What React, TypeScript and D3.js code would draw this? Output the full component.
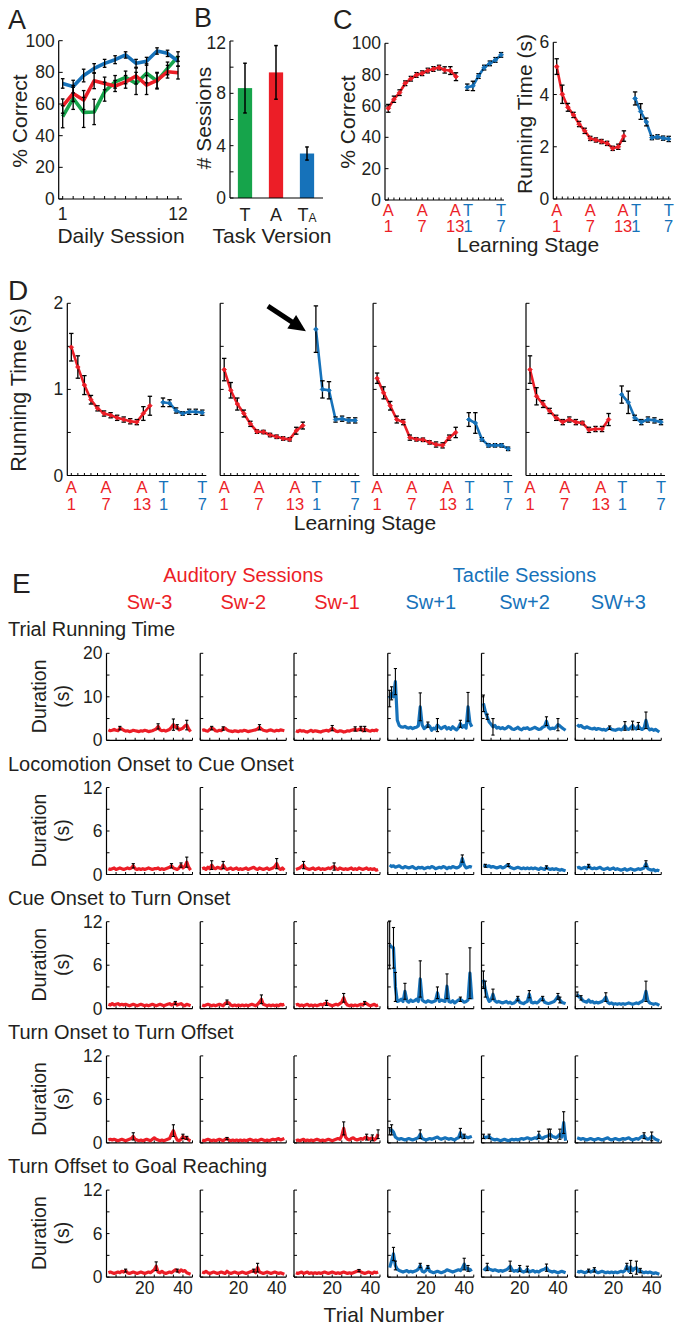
import React from 'react';
import * as d3 from 'd3';

const RED = '#ec1e27';
const BLUE = '#1672ba';
const GREEN = '#16a44b';
const INK = '#231f20';
const FONT = '"Liberation Sans", Arial, Helvetica, sans-serif';

/* ---------------- Panel A ---------------- */
const dailySessions = [1, 2, 3, 4, 5, 6, 7, 8, 9, 10, 11, 12];
const pctTactile = [52, 63.6, 54.7, 55, 67.8, 74, 76.8, 73, 79.4, 74.5, 82.5, 90];
const pctTactileErr = [7, 7, 9.5, 8, 6, 4, 4, 7, 6, 5, 4, 3];
const pctAuditory = [58.7, 66.7, 62.5, 74.7, 73, 71.4, 74, 77.7, 72, 75, 80.4, 79.8];
const pctAuditoryErr = [4.5, 5, 6, 5, 4, 3.5, 4, 5, 6, 5, 4, 4];
const pctTactileAfterA = [73, 71, 78, 82.5, 85.7, 88, 91, 85.7, 87, 93.5, 92, 87];
const pctTactileAfterAErr = [3, 4, 4, 3, 2.5, 2.5, 2, 2.5, 2.5, 2, 2, 3];
const pctTicks = [0, 20, 40, 60, 80, 100];

/* ---------------- Panel B ---------------- */
const taskVersions = ['T', 'A', 'TA'];
const sessionsNeeded = [8.4, 9.6, 3.4];
const sessionsNeededErr = [1.9, 2.05, 0.5];
const sessionTicks = [0, 2, 4, 6, 8, 10, 12];
const sessionTickLabels = [0, 4, 8, 12];

/* ---------------- Panel C ---------------- */
const auditoryStages = [1, 2, 3, 4, 5, 6, 7, 8, 9, 10, 11, 12, 13];
const tactileStages = [1, 2, 3, 4, 5, 6, 7];
const cPctAud = [58.5, 64.3, 68.5, 74.5, 77.4, 79.8, 80.9, 82.6, 83.6, 84.5, 83.0, 82.6, 78.7];
const cPctAudErr = [2.5, 2, 1.8, 1.5, 1.5, 1.5, 1.5, 1.5, 1.5, 1.5, 2, 2.5, 2.5];
const cPctTac = [72, 72.8, 79.1, 84.5, 87.2, 89.4, 92.6];
const cPctTacErr = [2, 3, 1.5, 1.5, 1.5, 1.5, 1.5];
const cRunAud = [5.07, 4.01, 3.51, 3.22, 2.87, 2.61, 2.32, 2.26, 2.2, 2.13, 1.94, 2.0, 2.41];
const cRunAudErr = [0.3, 0.35, 0.15, 0.1, 0.1, 0.1, 0.08, 0.08, 0.08, 0.08, 0.08, 0.1, 0.2];
const cRunTac = [3.85, 3.35, 2.95, 2.35, 2.38, 2.33, 2.3];
const cRunTacErr = [0.25, 0.3, 0.15, 0.08, 0.08, 0.08, 0.1];
const cPctTicks = [0, 20, 40, 60, 80, 100];
const cRunTicks = [0, 2, 4, 6];

/* ---------------- Panel D (four animals) ---------------- */
const dRunAud1 = [1.49, 1.26, 1.05, 0.88, 0.78, 0.72, 0.70, 0.67, 0.65, 0.63, 0.62, 0.72, 0.81];
const dRunAud1Err = [0.16, 0.13, 0.11, 0.05, 0.03, 0.03, 0.03, 0.03, 0.03, 0.03, 0.03, 0.08, 0.11];
const dRunTac1 = [0.85, 0.84, 0.755, 0.72, 0.74, 0.74, 0.73];
const dRunTac1Err = [0.05, 0.04, 0.03, 0.02, 0.03, 0.03, 0.03];
const dRunAud2 = [1.23, 0.99, 0.83, 0.72, 0.60, 0.51, 0.505, 0.47, 0.45, 0.43, 0.42, 0.52, 0.58];
const dRunAud2Err = [0.13, 0.09, 0.07, 0.04, 0.03, 0.02, 0.02, 0.02, 0.02, 0.02, 0.02, 0.04, 0.04];
const dRunTac2 = [1.70, 1.00, 0.99, 0.65, 0.66, 0.64, 0.64];
const dRunTac2Err = [0.27, 0.1, 0.1, 0.03, 0.03, 0.03, 0.03];
const dRunAud3 = [1.13, 0.96, 0.81, 0.65, 0.62, 0.44, 0.42, 0.415, 0.385, 0.36, 0.35, 0.44, 0.50];
const dRunAud3Err = [0.06, 0.07, 0.05, 0.04, 0.03, 0.03, 0.02, 0.02, 0.02, 0.03, 0.03, 0.03, 0.06];
const dRunTac3 = [0.65, 0.61, 0.42, 0.35, 0.35, 0.35, 0.31];
const dRunTac3Err = [0.08, 0.12, 0.02, 0.02, 0.02, 0.02, 0.02];
const dRunAud4 = [1.23, 0.92, 0.83, 0.75, 0.67, 0.62, 0.65, 0.62, 0.61, 0.53, 0.54, 0.54, 0.65];
const dRunAud4Err = [0.16, 0.1, 0.04, 0.03, 0.03, 0.03, 0.03, 0.03, 0.02, 0.03, 0.03, 0.03, 0.07];
const dRunTac4 = [0.94, 0.85, 0.67, 0.62, 0.65, 0.64, 0.62];
const dRunTac4Err = [0.1, 0.13, 0.03, 0.03, 0.03, 0.03, 0.03];
const dTicks = [0, 0.5, 1, 1.5, 2];
const dTickLabels = [0, 1, 2];

/* ---------------- Panel E (per-trial durations) ---------------- */
const eSessionLabels = ['Sw-3', 'Sw-2', 'Sw-1', 'Sw+1', 'Sw+2', 'SW+3'];
const eTrialTicks = [0, 5, 10, 15, 20, 25, 30, 35, 40, 45];
const eTrialTickLabels = [20, 40];

// Trial running time
const rtA3 = [2.4,2.2,2.3,2.5,2.3,2.2,2.8,2.6,2.3,2.1, 2.2,2.0,2.1,2.3,2.2,2.1,2.0,2.2,2.1,2.3, 2.2,2.0,2.1,2.2,2.4,2.6,3.2,2.4,2.2,2.3, 2.1,2.3,2.5,3.0,3.6,3.0,3.1,2.4,2.6,2.8, 3.3,3.5,2.6,2.0];
const rtA2 = [2.3,2.4,2.2,2.1,2.5,2.8,2.6,2.2,2.1,2.3, 2.2,2.7,2.8,2.4,2.2,2.1,2.0,2.2,2.1,2.0, 2.2,2.1,2.3,2.2,2.0,2.1,2.2,2.3,2.4,2.6, 3.0,2.6,2.3,2.2,2.1,2.3,2.4,2.2,2.1,2.3, 2.2,2.4,2.3,2.2];
const rtA1 = [2.2,2.0,2.3,2.1,2.2,2.0,1.9,2.1,2.3,2.0, 2.2,2.1,2.0,1.9,2.1,2.2,2.3,2.1,2.4,2.8, 2.4,2.1,2.0,2.2,2.1,1.9,2.0,2.2,2.1,2.3, 2.4,2.6,2.3,2.5,2.7,2.2,2.6,2.4,2.2,2.1, 2.3,2.2,2.4,2.1];
const rtT1 = [9.6,10.8,10.0,13.5,4.6,3.4,3.1,3.0,3.2,2.9, 2.8,3.0,2.7,2.9,3.0,3.3,7.7,3.5,2.7,3.0, 3.6,3.2,2.3,2.8,2.6,3.5,3.0,2.7,3.0,3.2, 2.6,2.9,2.5,3.1,2.7,2.4,2.9,3.8,3.0,3.4, 2.8,7.7,4.0,3.1];
const rtT2 = [8.5,6.6,5.4,4.2,3.7,3.1,3.4,2.8,3.0,2.7, 2.9,2.6,2.8,3.2,3.0,2.6,2.5,2.7,3.0,2.6, 2.4,2.8,2.7,2.9,2.5,2.6,2.8,3.0,2.7,2.5, 2.6,3.0,3.2,4.4,3.0,2.6,2.8,2.7,3.0,3.6, 3.3,2.9,2.6,2.3];
const rtT3 = [3.6,3.2,3.4,3.0,2.8,3.1,2.9,2.7,2.6,2.8, 2.5,2.7,2.6,2.4,2.5,2.3,2.6,2.9,2.5,2.4, 2.3,2.5,2.6,2.4,2.7,3.3,2.6,2.5,2.9,3.4, 2.8,2.6,3.3,2.7,2.5,2.8,4.6,2.9,2.4,2.6, 2.3,2.5,2.2,1.9];
const rtA3Err = [[7, 0.4], [27, 0.6], [35, 1.3], [37, 0.5], [42, 1.1]];
const rtA2Err = [[6, 0.4], [12, 0.4], [31, 0.6]];
const rtA1Err = [[20, 0.6], [32, 0.5], [35, 0.5], [37, 0.6]];
const rtT1Err = [[1, 1.9], [2, 1.5], [4, 3.0], [17, 3.2], [21, 0.6], [26, 1.5], [38, 0.8], [42, 3.3]];
const rtT2Err = [[1, 1.9], [3, 0.6], [6, 1.9], [34, 1.0], [40, 1.4]];
const rtT3Err = [[18, 0.4], [26, 1.0], [30, 1.0], [33, 0.8], [37, 1.9]];

// Locomotion onset to cue onset
const lcA3 = [0.8,0.7,0.8,0.9,0.7,0.8,0.9,0.8,0.7,0.8, 0.9,0.8,0.9,1.2,0.8,0.7,0.8,0.7,0.8,0.7, 0.8,0.9,0.8,0.7,0.8,0.8,0.9,0.7,0.8,0.7, 0.8,0.9,1.0,1.2,0.9,0.8,0.7,0.9,1.3,0.9, 1.1,1.7,1.0,0.6];
const lcA2 = [0.8,0.9,0.7,1.0,0.8,1.3,0.9,0.8,1.0,0.9, 0.8,1.3,0.9,0.7,0.8,0.9,0.7,0.8,0.9,0.7, 0.8,0.7,0.8,0.9,0.7,0.8,0.9,1.0,0.8,0.7, 0.9,0.8,0.7,0.8,0.9,0.7,0.8,0.9,1.1,1.5, 0.9,0.7,0.9,0.6];
const lcA1 = [0.7,0.8,0.9,1.1,1.3,0.9,0.8,0.7,0.8,0.9, 0.7,0.8,0.9,0.7,0.8,0.7,0.8,0.9,0.8,1.0, 1.1,0.8,0.7,0.9,0.8,0.7,0.8,0.7,0.8,0.9, 0.7,0.8,0.7,0.9,0.8,0.7,0.8,0.9,0.7,0.8, 0.7,0.8,0.6,0.7];
const lcT1 = [1.3,1.1,1.2,1.0,1.1,1.2,1.0,0.9,1.1,1.0, 0.9,1.0,1.1,0.9,0.8,1.0,0.9,1.0,0.8,0.9, 1.0,0.9,1.1,1.0,0.8,0.9,1.0,0.9,1.1,1.0, 0.8,1.0,0.9,1.1,1.0,0.9,1.0,1.2,2.2,1.3, 0.9,1.0,1.1,1.0];
const lcT2 = [1.3,1.2,1.1,1.2,1.0,1.1,1.0,0.9,1.0,1.1, 0.9,1.0,1.2,1.3,1.0,0.9,0.8,0.9,1.0,0.9, 0.8,0.9,0.8,0.9,0.8,0.9,0.8,0.9,0.8,0.7, 0.9,0.8,0.7,1.0,0.8,0.7,0.8,0.7,0.8,0.7, 0.6,0.7,0.6,0.5];
const lcT3 = [0.9,1.0,0.8,0.9,1.0,0.8,1.2,0.9,0.8,0.9, 0.8,0.9,1.0,0.8,0.7,0.8,0.9,0.7,0.8,0.9, 0.7,0.8,0.7,0.6,0.7,0.8,0.6,0.7,0.8,0.7, 0.6,0.7,0.8,0.7,0.8,0.9,1.5,0.8,0.7,0.6, 0.7,0.5,0.6,0.5];
const lcA3Err = [[14, 0.3], [34, 0.3], [39, 0.3], [42, 0.7]];
const lcA2Err = [[6, 0.6], [12, 0.5], [40, 0.7]];
const lcA1Err = [[5, 0.5], [21, 0.5]];
const lcT1Err = [[39, 0.5]];
const lcT2Err = [[2, 0.2], [14, 0.2], [34, 0.2]];
const lcT3Err = [[7, 0.2], [37, 0.4]];

// Cue onset to turn onset
const ctA3 = [0.6,0.5,0.7,0.5,0.6,0.7,0.5,0.6,0.5,0.6, 0.5,0.4,0.5,0.6,0.5,0.4,0.5,0.6,0.5,0.4, 0.5,0.4,0.5,0.6,0.5,0.4,0.5,0.6,0.5,0.4, 0.5,0.6,0.7,0.5,0.6,0.8,0.5,0.6,0.7,0.5, 0.4,0.6,0.5,0.4];
const ctA2 = [0.5,0.4,0.5,0.6,0.5,0.4,0.5,0.4,0.5,0.6, 0.5,0.4,0.7,0.9,0.8,0.5,0.4,0.5,0.4,0.5, 0.4,0.5,0.4,0.5,0.4,0.5,0.6,0.5,0.4,0.6, 0.9,1.3,0.6,0.5,0.4,0.5,0.4,0.5,0.4,0.5, 0.4,0.6,0.5,0.6];
const ctA1 = [0.5,0.6,0.4,0.5,0.4,0.5,0.6,0.4,0.5,0.4, 0.5,0.4,0.5,0.6,0.5,0.7,0.8,0.6,0.5,0.4, 0.5,0.6,0.5,0.7,0.9,1.5,0.8,0.5,0.4,0.5, 0.4,0.5,0.4,0.5,0.6,0.5,0.8,0.7,0.5,0.4, 0.5,0.6,0.4,0.5];
const ctT1 = [8.8,8.5,8.4,3.0,1.0,1.1,1.3,1.0,2.4,1.1, 0.9,1.2,1.0,1.1,1.3,1.0,4.1,1.2,1.0,0.9, 1.1,1.0,0.9,1.0,1.1,2.2,1.0,1.2,1.1,1.0, 3.1,1.0,0.9,1.1,0.8,1.0,1.2,1.3,1.1,0.9, 1.0,1.2,4.9,1.3];
const ctT2 = [4.0,2.7,1.6,1.0,1.2,2.0,1.1,0.9,1.0,0.9, 0.8,0.9,1.0,0.8,0.9,0.7,0.8,1.0,1.4,0.9, 0.8,0.7,0.9,1.0,2.0,0.9,0.8,0.9,0.8,1.0, 1.3,1.4,0.9,0.8,0.7,0.8,0.9,1.0,1.3,1.7, 1.2,0.9,0.8,0.7];
const ctT3 = [2.0,1.6,1.5,1.1,1.0,0.9,1.2,0.9,1.0,0.8, 0.9,0.8,0.9,1.0,1.2,1.6,0.9,0.7,0.8,0.6, 0.7,0.6,0.7,0.6,0.7,0.6,0.7,0.8,0.7,0.6, 0.7,0.8,0.7,0.9,1.0,1.3,2.4,1.1,0.8,0.7, 0.6,0.7,0.6,0.45];
const ctA3Err = [[36, 0.2]];
const ctA2Err = [[14, 0.3], [32, 0.6]];
const ctA1Err = [[17, 0.35], [26, 0.6], [37, 0.2]];
const ctT1Err = [[1, 3.3], [3, 2.8], [4, 2.0], [9, 1.1], [17, 2.5], [26, 0.8], [31, 1.7], [38, 0.3], [43, 3.5]];
const ctT2Err = [[1, 1.2], [2, 1.1], [6, 0.7], [19, 0.3], [25, 0.5], [32, 0.3], [40, 0.4], [41, 0.4]];
const ctT3Err = [[1, 0.3], [3, 0.3], [16, 0.6], [37, 1.4]];

// Turn onset to turn offset
const ttA3 = [0.4,0.5,0.4,0.5,0.4,0.3,0.4,0.5,0.4,0.3, 0.4,0.5,0.6,0.9,0.5,0.4,0.3,0.4,0.3,0.4, 0.5,0.4,0.3,0.5,0.7,0.5,0.4,0.3,0.4,0.3, 0.4,0.5,0.6,1.2,1.7,0.9,0.4,0.3,0.5,0.9, 0.6,0.7,0.4,0.3];
const ttA2 = [0.4,0.3,0.4,0.5,0.4,0.3,0.4,0.3,0.4,0.5, 0.4,0.3,0.5,0.6,0.4,0.3,0.4,0.3,0.4,0.3, 0.4,0.3,0.4,0.3,0.4,0.5,0.4,0.3,0.4,0.3, 0.4,0.5,0.4,0.3,0.4,0.3,0.4,0.5,0.4,0.5, 0.6,0.4,0.5,0.6];
const ttA1 = [0.3,0.4,0.3,0.4,0.5,0.3,0.4,0.3,0.4,0.3, 0.4,0.5,0.4,0.3,0.4,0.3,0.4,0.5,0.4,0.3, 0.4,0.5,0.6,0.5,1.0,2.0,0.8,0.5,0.4,0.6, 0.7,0.5,0.4,0.5,0.6,0.5,0.7,0.8,0.5,0.6, 0.7,0.4,0.6,1.2];
const ttT1 = [1.6,1.8,1.5,0.8,0.6,0.5,0.6,0.5,0.4,0.5, 0.6,0.5,0.4,0.5,0.6,0.7,1.2,0.6,0.5,0.4, 0.5,0.6,0.5,0.6,0.7,0.8,0.6,0.5,0.6,0.7, 0.6,0.5,0.6,0.5,0.4,0.6,0.7,1.4,0.7,0.9, 0.8,0.7,0.8,0.9];
const ttT2 = [0.9,0.7,0.8,0.9,0.6,0.5,0.4,0.5,0.4,0.3, 0.4,0.5,0.4,0.3,0.4,0.5,0.4,0.5,0.4,0.5, 0.6,0.5,0.6,0.7,0.6,0.5,0.6,0.7,0.6,1.1, 0.7,0.6,0.8,0.9,1.0,1.2,0.9,0.8,0.7,0.9, 1.2,0.8,2.8,0.3];
const ttT3 = [0.7,0.6,0.5,0.6,0.5,0.4,0.5,0.6,0.5,0.4, 0.5,0.6,0.5,0.4,0.5,0.6,0.7,0.5,0.4,0.5, 0.6,0.5,0.4,0.5,0.6,0.5,0.6,0.7,0.5,0.4, 0.5,0.6,0.5,0.7,0.9,1.0,0.6,0.5,0.6,0.9, 0.7,0.5,0.4,0.3];
const ttA3Err = [[14, 0.5], [35, 0.8], [40, 0.3], [42, 0.2]];
const ttA2Err = [[14, 0.15]];
const ttA1Err = [[26, 0.9], [38, 0.4], [41, 0.4], [44, 0.6]];
const ttT1Err = [[1, 0.5], [2, 0.7], [17, 0.6], [38, 0.6], [40, 0.3]];
const ttT2Err = [[1, 0.3], [4, 0.3], [30, 0.5], [35, 0.9], [36, 0.7], [41, 0.7], [43, 1.5]];
const ttT3Err = [[36, 0.4], [40, 0.6]];

// Turn offset to goal reaching
const gaA3 = [0.6,0.7,0.6,0.5,0.6,0.7,0.6,0.8,0.7,0.9, 0.6,0.5,0.6,0.7,0.6,0.5,0.6,0.7,0.6,0.5, 0.6,0.7,0.6,0.8,1.0,1.5,0.7,0.6,0.8,0.6, 0.5,0.6,0.7,0.6,0.8,1.0,0.9,0.7,1.0,0.8, 0.9,0.6,0.5,0.4];
const gaA2 = [0.7,0.6,0.8,0.6,0.5,0.6,0.7,0.6,0.5,0.6, 0.7,0.6,0.5,0.8,0.6,0.5,0.6,0.7,0.6,0.5, 0.6,0.7,0.6,0.5,0.6,0.7,0.8,0.9,0.6,1.3, 0.7,0.6,0.5,0.6,0.7,0.6,0.5,0.6,0.7,0.6, 0.5,0.6,0.5,0.4];
const gaA1 = [0.6,0.5,0.6,0.7,0.5,0.6,0.7,0.5,0.6,0.5, 0.6,0.5,0.6,0.5,0.6,0.7,0.6,0.5,0.6,0.7, 0.6,0.5,0.6,0.5,0.6,0.7,0.6,0.5,0.6,0.5, 0.6,0.7,0.8,0.9,0.7,0.6,0.5,0.6,0.7,0.6, 0.5,0.7,0.6,0.7];
const gaT1 = [1.3,2.2,3.2,1.6,1.1,0.9,0.8,0.7,0.8,0.9, 0.7,0.8,0.7,0.8,0.9,1.1,1.6,0.8,0.7,0.9, 1.4,0.8,0.7,0.6,0.7,0.8,0.7,0.6,0.7,0.8, 1.0,0.9,0.8,0.7,0.8,0.9,1.0,0.9,1.2,1.8, 1.1,1.2,0.9,1.1];
const gaT2 = [1.2,1.0,1.4,1.1,1.0,0.9,1.0,0.9,0.8,0.9, 0.8,0.9,1.0,1.2,1.5,1.0,0.8,0.9,0.8,1.2, 0.8,0.7,0.8,1.1,0.7,0.8,0.9,0.7,0.8,0.7, 0.9,1.0,1.1,1.3,0.9,0.8,0.7,0.8,0.7,0.6, 0.7,0.8,0.7,0.6];
const gaT3 = [0.8,0.7,0.8,0.7,0.6,0.7,0.9,0.7,0.8,1.0, 0.7,0.6,0.7,0.8,0.7,0.6,0.7,0.6,0.7,0.6, 0.7,0.6,0.7,0.8,0.7,0.9,1.5,0.8,1.4,0.9, 1.2,1.3,0.8,0.9,0.7,0.6,0.7,0.6,0.7,0.6, 0.5,0.6,0.5,0.4];
const gaA3Err = [[10, 0.2], [26, 0.6], [37, 0.2]];
const gaA2Err = [[28, 0.2], [30, 0.6]];
const gaA1Err = [[34, 0.15]];
const gaT1Err = [[3, 0.9], [4, 0.6], [17, 0.3], [21, 0.2], [40, 0.8], [42, 0.4]];
const gaT2Err = [[3, 0.5], [15, 0.7], [20, 0.4], [24, 0.4], [34, 0.5]];
const gaT3Err = [[7, 0.2], [10, 0.3], [27, 0.4], [29, 0.9], [32, 0.9], [34, 0.3]];

const eRowTitles = ['Trial Running Time', 'Locomotion Onset to Cue Onset', 'Cue Onset to Turn Onset', 'Turn Onset to Turn Offset', 'Turn Offset to Goal Reaching'];
const eRowMax = [20, 12, 12, 12, 12];
const eRowTicks = [[0, 5, 10, 15, 20], [0, 3, 6, 9, 12], [0, 3, 6, 9, 12], [0, 3, 6, 9, 12], [0, 3, 6, 9, 12]];
const eRowTickLabels = [[0, 10, 20], [0, 6, 12], [0, 6, 12], [0, 6, 12], [0, 6, 12]];
const eRowSeries = [
  [rtA3, rtA2, rtA1, rtT1, rtT2, rtT3],
  [lcA3, lcA2, lcA1, lcT1, lcT2, lcT3],
  [ctA3, ctA2, ctA1, ctT1, ctT2, ctT3],
  [ttA3, ttA2, ttA1, ttT1, ttT2, ttT3],
  [gaA3, gaA2, gaA1, gaT1, gaT2, gaT3],
];
const eRowErrs = [
  [rtA3Err, rtA2Err, rtA1Err, rtT1Err, rtT2Err, rtT3Err],
  [lcA3Err, lcA2Err, lcA1Err, lcT1Err, lcT2Err, lcT3Err],
  [ctA3Err, ctA2Err, ctA1Err, ctT1Err, ctT2Err, ctT3Err],
  [ttA3Err, ttA2Err, ttA1Err, ttT1Err, ttT2Err, ttT3Err],
  [gaA3Err, gaA2Err, gaA1Err, gaT1Err, gaT2Err, gaT3Err],
];

/* ---------------- helpers ---------------- */
function ErrBar({ x, y0, y1, cap, sw }: any) {
  return (
    <g stroke="#000" strokeWidth={sw} fill="none">
      <line x1={x} x2={x} y1={y0} y2={y1} />
      <line x1={x - cap} x2={x + cap} y1={y0} y2={y0} />
      <line x1={x - cap} x2={x + cap} y1={y1} y2={y1} />
    </g>
  );
}

function Series({ xs, vals, errs, x, y, color, lw, r, cap, ebw }: any) {
  const pts = vals.map((v: number, i: number) => [x(xs[i]), y(v)]);
  const line = d3.line()(pts as any) || '';
  return (
    <g>
      <path d={line} fill="none" stroke={color} strokeWidth={lw} strokeLinejoin="round" strokeLinecap="round" />
      {errs && vals.map((v: number, i: number) => (
        <ErrBar key={'e' + i} x={x(xs[i])} y0={y(v + errs[i])} y1={y(v - errs[i])} cap={cap} sw={ebw} />
      ))}
      {r > 0 && pts.map((p: number[], i: number) => (
        <path key={'m' + i} d={`M${p[0]},${p[1] - r}L${p[0] + r},${p[1]}L${p[0]},${p[1] + r}L${p[0] - r},${p[1]}Z`} fill={color} stroke={color} strokeWidth={0.8} />
      ))}
    </g>
  );
}

function VText({ x, y, size, children, fill }: any) {
  return (
    <text transform={`translate(${x},${y}) rotate(-90)`} textAnchor="middle" dominantBaseline="central" fontSize={size} fill={fill || INK}>{children}</text>
  );
}

/* ---------------- Panel A ---------------- */
function PanelA() {
  const x = d3.scaleLinear().domain([0.62, 12.38]).range([58.7, 182]);
  const y = d3.scaleLinear().domain([0, 100]).range([199, 40.7]);
  const [x0, x1] = x.range();
  const series = [
    { vals: pctTactile, err: pctTactileErr, color: GREEN },
    { vals: pctAuditory, err: pctAuditoryErr, color: RED },
    { vals: pctTactileAfterA, err: pctTactileAfterAErr, color: BLUE },
  ];
  return (
    <g>
      <text x={8} y={29} fontSize={27} fill={INK}>A</text>
      {series.map((s, i) => (
        <path key={i} d={d3.line()(s.vals.map((v, j) => [x(dailySessions[j]), y(v)]) as any) || ''} fill="none" stroke={s.color} strokeWidth={3.6} strokeLinejoin="round" />
      ))}
      {series.map((s, i) => (
        <g key={'eb' + i}>
          {s.vals.map((v, j) => (
            <ErrBar key={j} x={x(dailySessions[j])} y0={y(v + s.err[j])} y1={y(v - s.err[j])} cap={1.8} sw={1.3} />
          ))}
        </g>
      ))}
      <line x1={x0} x2={x0} y1={y(100)} y2={y(0)} stroke="#000" strokeWidth={1.2} />
      <line x1={x0} x2={x1} y1={y(0)} y2={y(0)} stroke="#000" strokeWidth={1.2} />
      {pctTicks.map(t => (
        <g key={t}>
          <line x1={x0} x2={x0 + 4} y1={y(t)} y2={y(t)} stroke="#000" />
          <text x={x0 - 4} y={y(t)} textAnchor="end" dominantBaseline="central" fontSize={17.5} fill={INK}>{t}</text>
        </g>
      ))}
      {dailySessions.map(s => (
        <line key={s} x1={x(s)} x2={x(s)} y1={y(0)} y2={y(0) - 3} stroke="#000" />
      ))}
      {[dailySessions[0], dailySessions[dailySessions.length - 1]].map(s => (
        <text key={s} x={x(s)} y={y(0) + 15} textAnchor="middle" dominantBaseline="central" fontSize={17.5} fill={INK}>{s}</text>
      ))}
      <text x={121} y={243} textAnchor="middle" fontSize={21} fill={INK}>Daily Session</text>
      <VText x={19} y={121} size={21}>% Correct</VText>
    </g>
  );
}

/* ---------------- Panel B ---------------- */
function PanelB() {
  const x = d3.scaleBand().domain(taskVersions).range([229.5, 322.5]);
  const y = d3.scaleLinear().domain([0, 12]).range([198, 41]);
  const colors = [GREEN, RED, BLUE];
  const x0 = 230;
  const bw = x.bandwidth() * 0.46;
  return (
    <g>
      <text x={194} y={27} fontSize={27} fill={INK}>B</text>
      {taskVersions.map((t, i) => {
        const cx = (x(t) as number) + x.bandwidth() / 2;
        return (
          <g key={t}>
            <rect x={cx - bw / 2} y={y(sessionsNeeded[i])} width={bw} height={y(0) - y(sessionsNeeded[i])} fill={colors[i]} />
            <ErrBar x={cx} y0={y(sessionsNeeded[i] + sessionsNeededErr[i])} y1={y(sessionsNeeded[i] - sessionsNeededErr[i])} cap={1.8} sw={1.5} />
            <text x={cx} y={y(0) + 17} textAnchor="middle" dominantBaseline="central" fontSize={18} fill={INK}>
              {t[0]}
              {t.length > 1 && <tspan fontSize={12} dy={3}>{t.slice(1)}</tspan>}
            </text>
          </g>
        );
      })}
      <line x1={x0} x2={x0} y1={y(12)} y2={y(0)} stroke="#000" strokeWidth={1.2} />
      <line x1={x0} x2={323} y1={y(0)} y2={y(0)} stroke="#000" strokeWidth={1.2} />
      {sessionTicks.map(t => (
        <line key={t} x1={x0} x2={x0 + 3.5} y1={y(t)} y2={y(t)} stroke="#000" />
      ))}
      {sessionTickLabels.map(t => (
        <text key={t} x={x0 - 4} y={y(t) + (t === 12 ? 1.5 : 0)} textAnchor="end" dominantBaseline="central" fontSize={17.5} fill={INK}>{t}</text>
      ))}
      <text x={272} y={243} textAnchor="middle" fontSize={21} fill={INK}>Task Version</text>
      <VText x={203} y={118} size={21}># Sessions</VText>
    </g>
  );
}

/* ---------------- stage axis (C, D) ---------------- */
function StageLabels({ x, yTop, positions }: any) {
  const labels = [
    { p: positions[0], a: 'A', b: auditoryStages[0], c: RED },
    { p: positions[1], a: 'A', b: auditoryStages[6], c: RED },
    { p: positions[2], a: 'A', b: auditoryStages[12], c: RED },
    { p: positions[3], a: 'T', b: tactileStages[0], c: BLUE },
    { p: positions[4], a: 'T', b: tactileStages[6], c: BLUE },
  ];
  return (
    <g>
      {labels.map((l, i) => (
        <g key={i} fill={l.c} fontSize={16.5} textAnchor="middle">
          <text x={x(l.p)} y={yTop} dominantBaseline="central">{l.a}</text>
          <text x={x(l.p)} y={yTop + 16.5} dominantBaseline="central">{l.b}</text>
        </g>
      ))}
    </g>
  );
}

function StagePlot({ axisX, xStart, step, yScale, ticks, tickLabels, aud, audErr, tac, tacErr, labelPos, labelY, axisEnd, lw, r }: any) {
  const x = d3.scaleLinear().domain([0, 20]).range([xStart, xStart + 20 * step]);
  const audIdx = auditoryStages.map(s => s - 1);
  const tacIdx = tactileStages.map(s => s + 13);
  const y0 = yScale(0);
  const yTopV = yScale.domain()[1];
  const allIdx = d3.range(0, 21);
  return (
    <g>
      <line x1={axisX} x2={axisX} y1={yScale(yTopV)} y2={y0} stroke="#000" strokeWidth={1.2} />
      <line x1={axisX} x2={axisEnd} y1={y0} y2={y0} stroke="#000" strokeWidth={1.2} />
      {ticks.map((t: number) => (
        <line key={t} x1={axisX} x2={axisX + 3.5} y1={yScale(t)} y2={yScale(t)} stroke="#000" />
      ))}
      {tickLabels && tickLabels.map((t: number) => (
        <text key={'l' + t} x={axisX - 4} y={yScale(t)} textAnchor="end" dominantBaseline="central" fontSize={17.5} fill={INK}>{t}</text>
      ))}
      {allIdx.map(i => (
        <line key={'xt' + i} x1={x(i)} x2={x(i)} y1={y0} y2={y0 - 2.5} stroke="#000" />
      ))}
      <Series xs={audIdx} vals={aud} errs={audErr} x={x} y={yScale} color={RED} lw={lw} r={r} cap={2.2} ebw={1.3} />
      <Series xs={tacIdx} vals={tac} errs={tacErr} x={x} y={yScale} color={BLUE} lw={lw} r={r} cap={2.2} ebw={1.3} />
      <StageLabels x={x} yTop={labelY} positions={labelPos} />
    </g>
  );
}

/* ---------------- Panel C ---------------- */
function PanelC() {
  const yPct = d3.scaleLinear().domain([0, 100]).range([200, 43.3]);
  const yRun = d3.scaleLinear().domain([0, 6]).range([199, 42.3]);
  const cLabelPos = [0, 6, 11.85, 14.15, 20];
  return (
    <g>
      <text x={333} y={29} fontSize={27} fill={INK}>C</text>
      <StagePlot axisX={385} xStart={388.3} step={5.64} yScale={yPct} ticks={cPctTicks} tickLabels={cPctTicks}
        aud={cPctAud} audErr={cPctAudErr} tac={cPctTac} tacErr={cPctTacErr} labelPos={cLabelPos} labelY={209.5} axisEnd={504} lw={2.6} r={2.4} />
      <StagePlot axisX={553.3} xStart={556.7} step={5.6} yScale={yRun} ticks={cRunTicks} tickLabels={cRunTicks}
        aud={cRunAud} audErr={cRunAudErr} tac={cRunTac} tacErr={cRunTacErr} labelPos={cLabelPos} labelY={209.5} axisEnd={671} lw={2.6} r={2.4} />
      <VText x={347} y={122} size={21}>% Correct</VText>
      <VText x={524} y={114} size={21}>Running Time (s)</VText>
      <text x={528} y={252} textAnchor="middle" fontSize={21} fill={INK}>Learning Stage</text>
    </g>
  );
}

/* ---------------- Panel D ---------------- */
function PanelD() {
  const y = d3.scaleLinear().domain([0, 2]).range([475.5, 303.3]);
  const axes = [67.3, 220.2, 373.1, 526];
  const animals = [
    { aud: dRunAud1, audErr: dRunAud1Err, tac: dRunTac1, tacErr: dRunTac1Err },
    { aud: dRunAud2, audErr: dRunAud2Err, tac: dRunTac2, tacErr: dRunTac2Err },
    { aud: dRunAud3, audErr: dRunAud3Err, tac: dRunTac3, tacErr: dRunTac3Err },
    { aud: dRunAud4, audErr: dRunAud4Err, tac: dRunTac4, tacErr: dRunTac4Err },
  ];
  const dLabelPos = [0, 5.3, 10.8, 14.1, 20];
  const step = 6.55;
  // arrow annotation pointing at animal 2's first tactile session
  const ax2 = d3.scaleLinear().domain([0, 20]).range([axes[1] + 4, axes[1] + 4 + 20 * step]);
  const tipX = ax2(14) - 10;
  const tipY = y(dRunTac2[0]) + 2;
  const tailX = tipX - 38;
  const tailY = tipY - 25;
  const len = Math.hypot(tipX - tailX, tipY - tailY);
  const ux = (tipX - tailX) / len, uy = (tipY - tailY) / len;
  const hl = 17, hw = 8;
  const bx = tipX - ux * hl, by = tipY - uy * hl;
  return (
    <g>
      <text x={8} y={300} fontSize={28} fill={INK}>D</text>
      {animals.map((a, i) => (
        <StagePlot key={i} axisX={axes[i]} xStart={axes[i] + 4} step={step} yScale={y} ticks={dTicks}
          tickLabels={i === 0 ? dTickLabels : null}
          aud={a.aud} audErr={a.audErr} tac={a.tac} tacErr={a.tacErr} labelPos={dLabelPos} labelY={487} axisEnd={axes[i] + 139} lw={2.6} r={2.3} />
      ))}
      <line x1={tailX} y1={tailY} x2={bx + ux * 2} y2={by + uy * 2} stroke="#000" strokeWidth={5} />
      <path d={`M${tipX},${tipY}L${bx - uy * hw},${by + ux * hw}L${bx + uy * hw},${by - ux * hw}Z`} fill="#000" />
      <VText x={19} y={390} size={21.5}>Running Time (s)</VText>
      <text x={365} y={530} textAnchor="middle" fontSize={21} fill={INK}>Learning Stage</text>
    </g>
  );
}

/* ---------------- Panel E ---------------- */
function PanelE() {
  const colX0 = 106.5, colStep = 93.75, colW = 86;
  const rowTop0 = 653.3, rowStep = 134.2, rowH = 87;
  const colColors = [RED, RED, RED, BLUE, BLUE, BLUE];
  const lastRow = eRowTitles.length - 1;
  return (
    <g>
      <text x={12} y={593} fontSize={28} fill={INK}>E</text>
      <text x={colX0 + colStep + colW / 2} y={582} textAnchor="middle" fontSize={20} fill={RED}>Auditory Sessions</text>
      <text x={colX0 + 4 * colStep + colW / 2} y={582} textAnchor="middle" fontSize={20} fill={BLUE}>Tactile Sessions</text>
      {eSessionLabels.map((s, c) => (
        <text key={s} x={colX0 + c * colStep + colW / 2} y={609} textAnchor="middle" fontSize={20} fill={colColors[c]}>{s}</text>
      ))}
      {eRowTitles.map((title, r) => {
        const top = rowTop0 + r * rowStep;
        const y = d3.scaleLinear().domain([0, eRowMax[r]]).range([top + rowH, top]);
        return (
          <g key={title}>
            <text x={8} y={top - 17} fontSize={20} fill={INK}>{title}</text>
            <VText x={39} y={top + 43} size={19.5}>Duration</VText>
            <VText x={62} y={top + 43} size={19.5}>(s)</VText>
            {eRowTickLabels[r].map(t => (
              <text key={t} x={colX0 - 4} y={y(t)} textAnchor="end" dominantBaseline="central" fontSize={17.5} fill={INK}>{t}</text>
            ))}
            {eRowSeries[r].map((vals, c) => {
              const ax = colX0 + c * colStep;
              const x = d3.scaleLinear().domain([0, 45]).range([ax, ax + colW]);
              const trials = vals.map((_, i) => i + 1);
              const pts = vals.map((v, i) => [x(trials[i]), y(v)]);
              const errs = eRowErrs[r][c];
              return (
                <g key={c}>
                  <line x1={ax} x2={ax} y1={top} y2={top + rowH} stroke="#000" strokeWidth={1.2} />
                  <line x1={ax} x2={ax + colW} y1={top + rowH} y2={top + rowH} stroke="#000" strokeWidth={1.2} />
                  {eRowTicks[r].map(t => (
                    <line key={'yt' + t} x1={ax} x2={ax + 3} y1={y(t)} y2={y(t)} stroke="#000" />
                  ))}
                  {eTrialTicks.map(t => (
                    <line key={'xt' + t} x1={x(t)} x2={x(t)} y1={top + rowH} y2={top + rowH - 2.5} stroke="#000" />
                  ))}
                  <path d={d3.line()(pts as any) || ''} fill="none" stroke={colColors[c]} strokeWidth={3.2} strokeLinejoin="round" />
                  {errs.map(([n, e], k) => (
                    <ErrBar key={k} x={x(n)} y0={y(vals[n - 1] + e)} y1={y(Math.max(0, vals[n - 1] - e))} cap={1.6} sw={1.1} />
                  ))}
                  {r === lastRow && eTrialTickLabels.map(t => (
                    <text key={'xl' + t} x={x(t)} y={top + rowH + 11} textAnchor="middle" dominantBaseline="central" fontSize={17.5} fill={INK}>{t}</text>
                  ))}
                </g>
              );
            })}
          </g>
        );
      })}
      <text x={colX0 + (5 * colStep + colW) / 2} y={1322} textAnchor="middle" fontSize={21} fill={INK}>Trial Number</text>
    </g>
  );
}

export default function App() {
  return (
    <svg width={675} height={1332} viewBox="0 0 675 1332" style={{ position: 'absolute', left: 0, top: 0, background: '#fff' }} fontFamily={FONT}>
      <rect width={675} height={1332} fill="#fff" />
      <PanelA />
      <PanelB />
      <PanelC />
      <PanelD />
      <PanelE />
    </svg>
  );
}
